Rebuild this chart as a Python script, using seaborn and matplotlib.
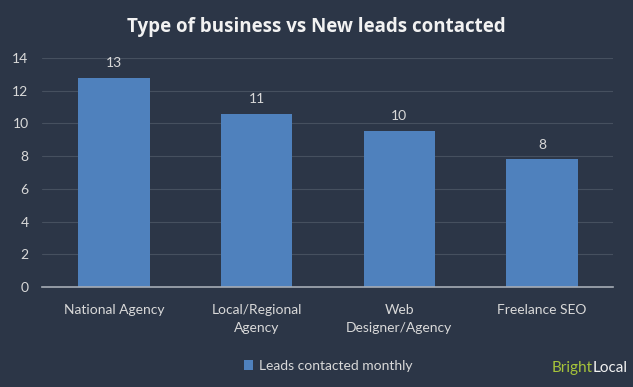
import matplotlib
matplotlib.use("Agg")
import matplotlib.pyplot as plt
import seaborn as sns
import pandas as pd

categories = ["National Agency", "Local/Regional\nAgency", "Web\nDesigner/Agency", "Freelance SEO"]
values = [12.8, 10.6, 9.55, 7.8]
value_labels = ["13", "11", "10", "8"]
series_name = "Leads contacted monthly"
yticks = [0, 2, 4, 6, 8, 10, 12, 14]

BG = "#2c3647"
BAR = "#4f81bd"
TXT = "#d9d9d9"
GRID = "#46505f"

sns.set_theme(style="dark")
plt.rcParams['font.family'] = ['Lato', 'DejaVu Sans']

df = pd.DataFrame({"cat": categories, "val": values, "series": series_name})

fig = plt.figure(figsize=(6.33, 3.87), dpi=100, facecolor=BG)
ax = fig.add_axes([0.0671, 0.2584, 0.902, 0.5917])
ax.set_facecolor(BG)

sns.barplot(data=df, x="cat", y="val", hue="series", palette=[BAR], width=0.5,
            saturation=1, ax=ax, legend=True, edgecolor="none", linewidth=0)

ax.set_ylim(0, 14)
ax.set_yticks(yticks)
ax.set_yticklabels([str(t) for t in yticks], color=TXT, fontsize=10)
ax.set_xticks(range(len(categories)))
ax.set_xticklabels(categories, color=TXT, fontsize=10, linespacing=1.6)
ax.tick_params(axis='x', length=0, pad=12)
ax.tick_params(axis='y', length=0, pad=10)
ax.set_xlabel("")
ax.set_ylabel("")
ax.grid(axis='y', color=GRID, linewidth=0.8)
ax.grid(axis='x', visible=False)
ax.set_axisbelow(True)
for s in ["top", "right", "left"]:
    ax.spines[s].set_visible(False)
ax.spines["bottom"].set_color("#a6acb5")
ax.spines["bottom"].set_linewidth(1.2)

for i, (v, lab) in enumerate(zip(values, value_labels)):
    ax.annotate(lab, (i, v), xytext=(0, 6), textcoords="offset points",
                ha="center", va="bottom", color=TXT, fontsize=10)

leg = ax.legend(loc="center", bbox_to_anchor=(0.5, -0.345), frameon=False,
                fontsize=10, handlelength=0.7, handleheight=0.7, handletextpad=0.4)
for t in leg.get_texts():
    t.set_color(TXT)
for h in leg.legend_handles:
    h.set_edgecolor("none")

fig.text(0.5, 0.93, "Type of business vs New leads contacted", ha="center", va="center",
         color="#f2f2f2", fontsize=13.5, fontweight="bold", fontfamily=["Open Sans", "DejaVu Sans"])

t1 = fig.text(0.872, 0.05, "Bright", ha="left", va="center", color="#a6c43a", fontsize=11)
fig.canvas.draw()
bb = t1.get_window_extent()
fig.text(bb.x1 / fig.bbox.width, 0.05, "Local", ha="left", va="center", color="#f2f2f2", fontsize=11)

fig.savefig("out.png", dpi=100, facecolor=BG)
